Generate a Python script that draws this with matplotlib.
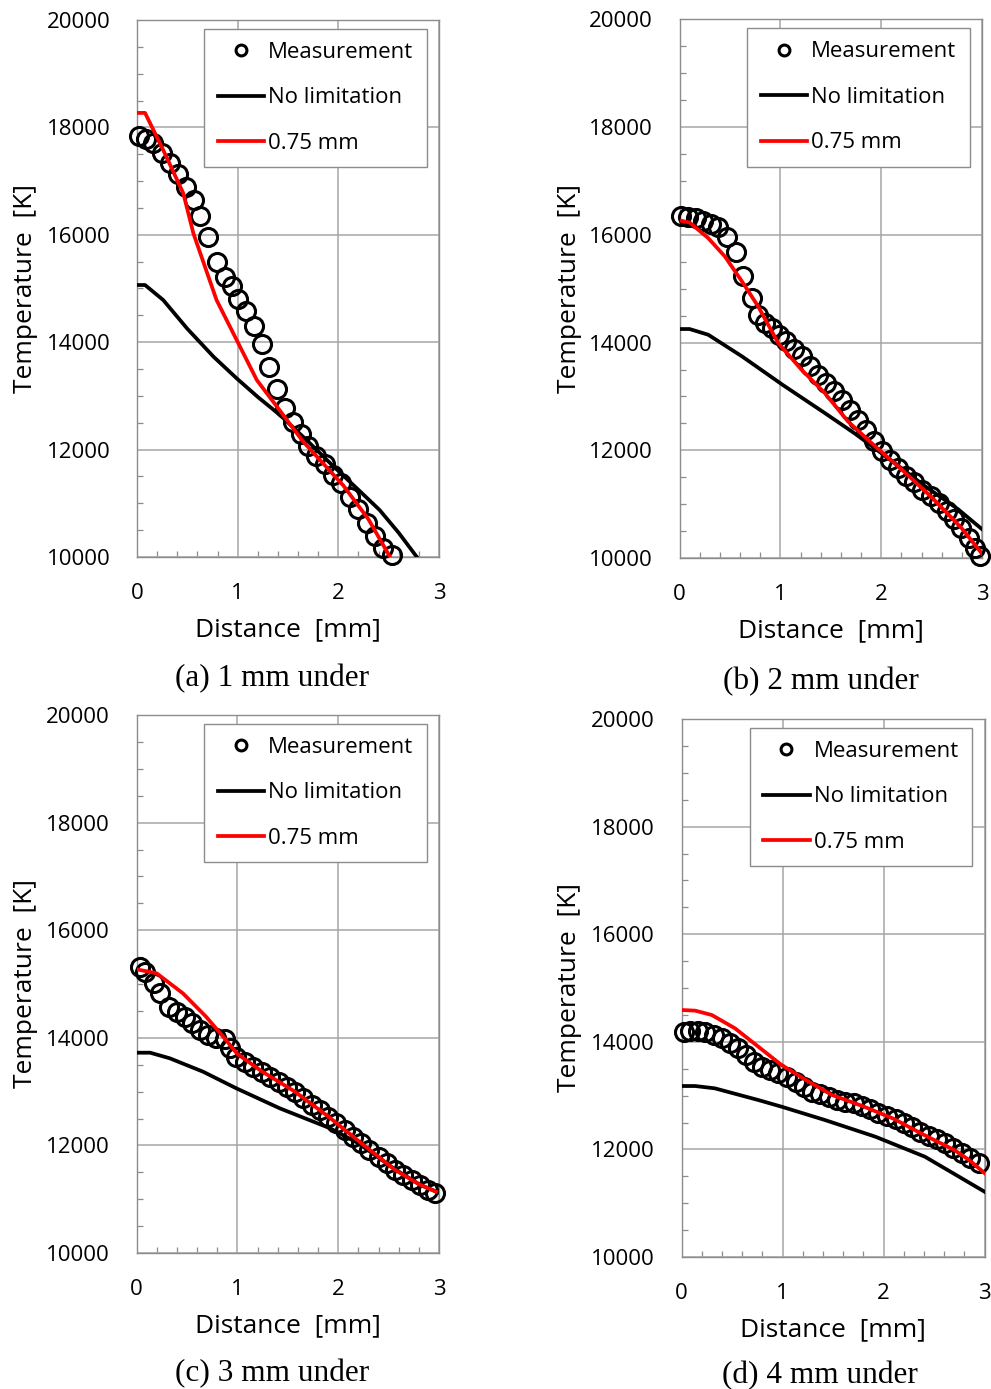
import matplotlib
matplotlib.use("Agg")
import matplotlib.pyplot as plt
from matplotlib.ticker import MultipleLocator

plt.rcParams['font.family'] = ['Open Sans', 'DejaVu Sans']

# ---------------- data ----------------
# (a) 1 mm under
meas_x_a = [0.02, 0.09, 0.16, 0.245, 0.33, 0.41, 0.49, 0.57, 0.625, 0.71, 0.79, 0.87, 0.94,
            1.006, 1.08, 1.165, 1.24, 1.315, 1.387, 1.47, 1.55, 1.625, 1.70, 1.78, 1.867,
            1.95, 2.03, 2.115, 2.2, 2.28, 2.36, 2.44, 2.53]
meas_T_a = [17840, 17778, 17704, 17529, 17343, 17132, 16884, 16648, 16350, 15953, 15488, 15220, 15052,
            14804, 14587, 14308, 13967, 13544, 13123, 12769, 12520, 12285, 12067, 11881, 11726,
            11527, 11372, 11123, 10888, 10627, 10391, 10162, 10037]
nolim_x_a = [0, 0.08, 0.26, 0.5, 0.76, 0.99, 1.2, 1.42, 1.7, 1.92, 2.2, 2.41, 2.6, 2.8]
nolim_T_a = [15065, 15065, 14786, 14250, 13730, 13327, 12980, 12644, 12150, 11745, 11250, 10875, 10450, 9950]
lim_x_a = [0, 0.08, 0.26, 0.46, 0.56, 0.79, 0.99, 1.19, 1.39, 1.65, 2.05, 2.3, 2.52]
lim_T_a = [18270, 18270, 17580, 16773, 16028, 14786, 14041, 13296, 12800, 12150, 11330, 10700, 9980]

# (b) 2 mm under
meas_x_b = [0.015, 0.087, 0.16, 0.236, 0.31, 0.385, 0.47, 0.56, 0.63, 0.72, 0.775, 0.847, 0.913,
            0.986, 1.06, 1.135, 1.21, 1.295, 1.378, 1.45, 1.537, 1.61, 1.686, 1.77, 1.85, 1.925,
            2.008, 2.09, 2.17, 2.25, 2.33, 2.405, 2.49, 2.57, 2.653, 2.72, 2.795, 2.868, 2.935, 2.985]
meas_T_b = [16354, 16341, 16311, 16267, 16206, 16144, 15959, 15681, 15228, 14827, 14517, 14363, 14270,
            14146, 14023, 13881, 13744, 13559, 13404, 13250, 13095, 12941, 12755, 12557, 12372, 12168,
            11982, 11827, 11673, 11530, 11406, 11271, 11160, 11025, 10868, 10727, 10560, 10375, 10189, 10046]
nolim_x_b = [0, 0.1, 0.285, 0.62, 1.02, 1.44, 1.74, 2.1, 2.43, 2.76, 3.0]
nolim_T_b = [14252, 14252, 14146, 13744, 13219, 12693, 12310, 11810, 11340, 10910, 10535]
lim_x_b = [0, 0.1, 0.285, 0.45, 0.62, 0.78, 0.98, 1.21, 1.44, 1.67, 1.94, 2.2, 2.5, 2.8, 3.0]
lim_T_b = [16270, 16230, 15940, 15600, 15135, 14672, 13990, 13497, 13065, 12538, 12075, 11650, 11130, 10550, 10080]

# (c) 3 mm under
meas_x_c = [0.036, 0.086, 0.17, 0.235, 0.32, 0.40, 0.48, 0.55, 0.63, 0.71, 0.79, 0.88, 0.93,
            0.99, 1.08, 1.16, 1.24, 1.32, 1.41, 1.49, 1.57, 1.65, 1.74, 1.82, 1.90, 1.98,
            2.07, 2.15, 2.23, 2.31, 2.40, 2.48, 2.56, 2.64, 2.73, 2.81, 2.89, 2.96]
meas_T_c = [15322, 15229, 15013, 14827, 14578, 14485, 14392, 14269, 14145, 14052, 13990, 13972, 13805,
            13649, 13556, 13463, 13370, 13277, 13184, 13091, 12998, 12875, 12751, 12658, 12534, 12410,
            12286, 12162, 12038, 11914, 11790, 11667, 11543, 11450, 11357, 11264, 11171, 11109]
nolim_x_c = [0, 0.135, 0.33, 0.66, 0.99, 1.42, 1.92, 2.2, 2.56, 2.81, 3.0]
nolim_T_c = [13723, 13723, 13619, 13370, 13061, 12690, 12318, 12040, 11560, 11270, 11120]
lim_x_c = [0, 0.2, 0.46, 0.69, 0.86, 1.0, 1.24, 1.57, 1.9, 2.23, 2.56, 2.81, 2.97]
lim_T_c = [15273, 15199, 14827, 14392, 14020, 13700, 13380, 13000, 12540, 12040, 11550, 11270, 11140]

# (d) 4 mm under
meas_x_d = [0.02, 0.087, 0.16, 0.235, 0.32, 0.40, 0.48, 0.56, 0.64, 0.72, 0.80, 0.88, 0.96,
            1.04, 1.13, 1.21, 1.29, 1.37, 1.46, 1.54, 1.62, 1.71, 1.79, 1.87, 1.95, 2.03,
            2.12, 2.20, 2.28, 2.36, 2.45, 2.53, 2.61, 2.69, 2.78, 2.86, 2.95]
meas_T_d = [14188, 14207, 14207, 14176, 14126, 14065, 13983, 13878, 13755, 13630, 13537, 13476, 13414,
            13352, 13259, 13166, 13073, 13024, 12980, 12918, 12887, 12856, 12807, 12745, 12671, 12621,
            12559, 12497, 12422, 12329, 12249, 12187, 12113, 12020, 11927, 11834, 11754]
nolim_x_d = [0, 0.136, 0.33, 0.76, 0.99, 1.42, 1.92, 2.41, 2.7, 3.0]
nolim_T_d = [13178, 13178, 13135, 12918, 12794, 12546, 12236, 11864, 11545, 11214]
lim_x_d = [0, 0.136, 0.3, 0.53, 0.76, 0.99, 1.26, 1.49, 1.8, 2.1, 2.4, 2.7, 2.85, 3.0]
lim_T_d = [14591, 14579, 14498, 14250, 13910, 13569, 13259, 13011, 12800, 12570, 12270, 11990, 11800, 11560]

captions = ["(a) 1 mm under", "(b) 2 mm under", "(c) 3 mm under", "(d) 4 mm under"]
legend_labels = ["Measurement", "No limitation", "0.75 mm"]
xticks = [0, 1, 2, 3]
yticks = [10000, 12000, 14000, 16000, 18000, 20000]

# ---------------- layout ----------------
W, H = 991, 1389
fig = plt.figure(figsize=(W / 100, H / 100), dpi=100)

panels = [
    dict(rect=(137, 439, 20, 557), cap=(272, 686), ylab_x=26,
         data=(meas_x_a, meas_T_a, nolim_x_a, nolim_T_a, lim_x_a, lim_T_a)),
    dict(rect=(679.5, 982, 19.5, 558), cap=(821, 689), ylab_x=569,
         data=(meas_x_b, meas_T_b, nolim_x_b, nolim_T_b, lim_x_b, lim_T_b)),
    dict(rect=(136.5, 439, 715, 1253), cap=(272, 1381), ylab_x=26,
         data=(meas_x_c, meas_T_c, nolim_x_c, nolim_T_c, lim_x_c, lim_T_c)),
    dict(rect=(681.5, 984.5, 719, 1257), cap=(820, 1383), ylab_x=570,
         data=(meas_x_d, meas_T_d, nolim_x_d, nolim_T_d, lim_x_d, lim_T_d)),
]

grid_c = '#a6a6a6'
spine_c = '#8c8c8c'

for p, cap in zip(panels, captions):
    L, R, T, B = p['rect']
    ax = fig.add_axes([L / W, 1 - B / H, (R - L) / W, (B - T) / H])
    mx, mT, nx, nT, lx, lT = p['data']
    h1, = ax.plot(mx, mT, 'o', mfc='none', mec='black', ms=13, mew=2.2,
                  clip_on=False, zorder=3, label=legend_labels[0])
    h2, = ax.plot(nx, nT, '-', color='black', lw=2.7, zorder=4, label=legend_labels[1])
    h3, = ax.plot(lx, lT, '-', color='#ff0000', lw=2.7, zorder=5, label=legend_labels[2])

    ax.set_xlim(0, 3)
    ax.set_ylim(10000, 20000)
    ax.set_xticks(xticks)
    ax.set_yticks(yticks)
    ax.xaxis.set_minor_locator(MultipleLocator(0.2))
    ax.yaxis.set_minor_locator(MultipleLocator(500))
    ax.tick_params(which='major', length=0, pad=19, labelsize=16, colors='black')
    ax.tick_params(which='minor', direction='in', length=4.5, width=0.9, color=spine_c)
    ax.grid(True, which='major', color=grid_c, lw=1.1)
    ax.set_axisbelow(True)
    for s in ax.spines.values():
        s.set_color(spine_c)
        s.set_linewidth(1.0)

    ax.set_xlabel("Distance  [mm]", fontsize=19)
    ax.xaxis.set_label_coords(0.5, -72.5 / (B - T))
    ax.xaxis.label.set_va('center')
    ax.set_ylabel("Temperature  [K]", fontsize=19)
    ax.yaxis.set_label_coords(-(L - p['ylab_x']) / (R - L), 0.5)
    ax.yaxis.label.set_va('center')

    leg = ax.legend(handles=[h1, h2, h3], loc='upper right',
                    bbox_to_anchor=(0.96, 0.984), borderaxespad=0,
                    fontsize=16, markerscale=0.6, handlelength=2.1,
                    handletextpad=0.18, labelspacing=1.1, borderpad=0.6,
                    fancybox=False, framealpha=1, edgecolor='#8c8c8c')
    leg.get_frame().set_linewidth(1.0)

    fig.text(p['cap'][0] / W, 1 - p['cap'][1] / H, cap, ha='center', va='baseline',
             fontsize=22.5, family=['Liberation Serif', 'DejaVu Serif'])

fig.savefig("out.png", dpi=100)
